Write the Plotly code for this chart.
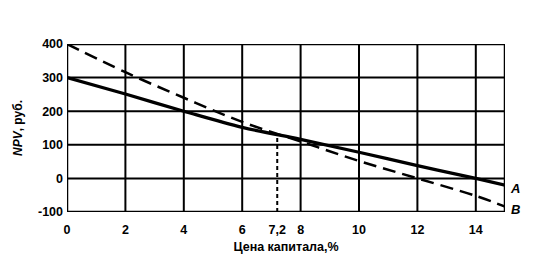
import plotly.graph_objects as go

# Data
rate = [0, 2, 4, 6, 8, 10, 12, 14, 15]
npv_a = [300, 251, 200, 152, 116, 78, 38, 0, -20]
npv_b = [400, 316, 240, 168, 110, 52, 0, -52, -84]
fisher_rate = 7.2
fisher_npv = 131

x_ticks = [0, 2, 4, 6, 7.2, 8, 10, 12, 14]
x_ticktext = ["0", "2", "4", "6", "7,2", "8", "10", "12", "14"]
x_grid = [2, 4, 6, 8, 10, 12, 14]
y_ticks = [-100, 0, 100, 200, 300, 400]
y_ticktext = ["-100", "0", "100", "200", "300", "400"]
y_grid = [0, 100, 200, 300]

font = dict(family="Liberation Sans, Arial, sans-serif", size=12.5, color="black", weight="bold")

fig = go.Figure()

fig.add_trace(go.Scatter(x=[fisher_rate, fisher_rate], y=[-100, fisher_npv], mode="lines",
                         line=dict(color="black", width=2, dash="4px,3px"), showlegend=False))
fig.add_trace(go.Scatter(x=rate, y=npv_b, mode="lines", line=dict(color="black", width=2.5, dash="13px,7px", shape="spline"),
                         showlegend=False))
fig.add_trace(go.Scatter(x=rate, y=npv_a, mode="lines", line=dict(color="black", width=3.2, shape="spline"),
                         showlegend=False))

shapes = []
for gx in x_grid:
    shapes.append(dict(type="line", xref="x", yref="y", x0=gx, x1=gx, y0=-100, y1=400,
                       line=dict(color="black", width=2), layer="below"))
for gy in y_grid:
    shapes.append(dict(type="line", xref="x", yref="y", x0=0, x1=15, y0=gy, y1=gy,
                       line=dict(color="black", width=2), layer="below"))
shapes.append(dict(type="rect", xref="x", yref="y", x0=0, x1=15, y0=-100, y1=400,
                   line=dict(color="black", width=2.5)))

fig.update_layout(
    width=541, height=267,
    margin=dict(l=67, r=36, t=44, b=55),
    paper_bgcolor="white", plot_bgcolor="white",
    font=font,
    shapes=shapes,
    xaxis=dict(range=[0, 15], tickvals=x_ticks, ticktext=x_ticktext, showgrid=False, zeroline=False,
               ticks="", showline=False, tickfont=font, ticklabelstandoff=8,
               title=dict(text="Цена капитала,%", font=font, standoff=6)),
    yaxis=dict(range=[-100, 400], tickvals=y_ticks, ticktext=y_ticktext, showgrid=False, zeroline=False, ticks="",
               showline=False, tickfont=font, ticklabelstandoff=3,
               title=dict(text="<i>NPV</i>, руб.", font=dict(family=font["family"], size=12, color="black"), standoff=12)),
    annotations=[
        dict(x=15, y=npv_a[-1], xref="x", yref="y", text="<i>A</i>", showarrow=False, xanchor="left", xshift=3, yshift=-3,
             font=dict(family=font["family"], size=13, color="black")),
        dict(x=15, y=npv_b[-1], xref="x", yref="y", text="<i>B</i>", showarrow=False, xanchor="left", xshift=4, yshift=-3,
             font=dict(family=font["family"], size=13, color="black")),
    ],
)

fig.write_html("out.html")
